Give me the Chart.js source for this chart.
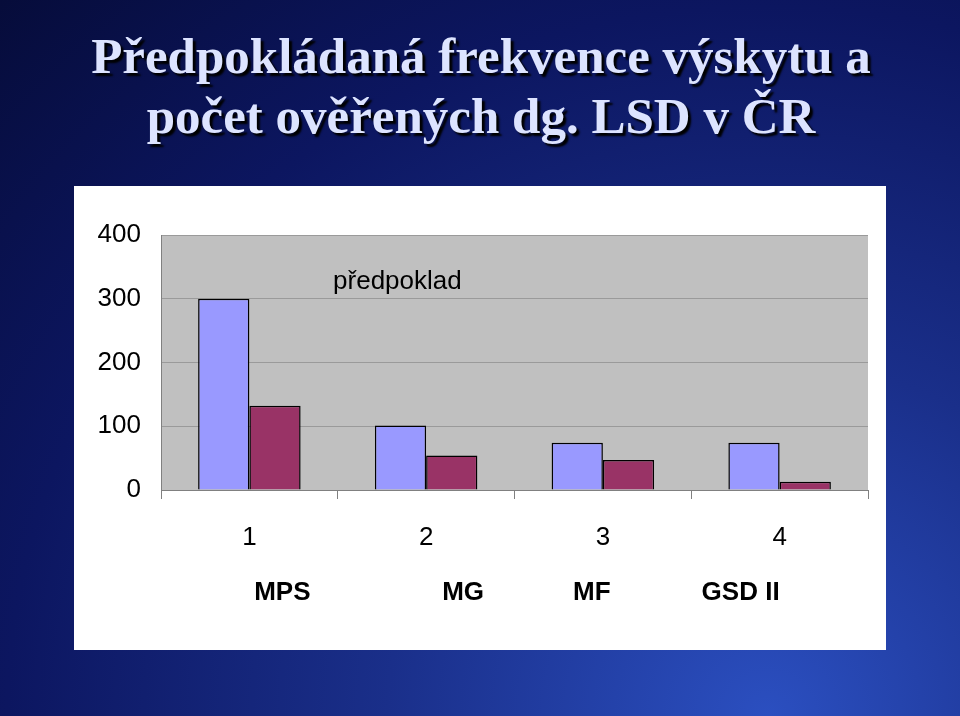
<!DOCTYPE html>
<html><head><meta charset="utf-8">
<script src="https://cdn.jsdelivr.net/npm/chart.js@4"></script>
<style>
html,body{margin:0;padding:0;}
body{width:960px;height:716px;position:relative;overflow:hidden;
background:radial-gradient(ellipse at 80% 100%, #2b4fc0 0%, #1a2f8a 35%, #0c1660 70%, #060c3a 100%);}
#title{position:absolute;left:0;top:26px;width:962px;text-align:center;font-family:"Liberation Serif",serif;font-weight:bold;font-size:51px;line-height:60px;color:#dde4ff;text-shadow:3px 3px 2px #000;}
#panel{position:absolute;left:74px;top:186px;width:812px;height:464px;background:#fff;}
</style></head><body>
<div id="title">Předpokládaná frekvence výskytu a<br>počet ověřených dg. LSD v ČR</div>
<div id="panel"><canvas id="c" width="812" height="464"></canvas></div>
<script>
const categories=["1","2","3","4"];
const diseases=["MPS","MG","MF","GSD II"];
const predpoklad=[300,101,74,74];
const overeno=[132,54,47,13];
const yTicks=[0,100,200,300,400];

const textPlugin={id:'txt',afterDraw(ch){
 const c=ch.ctx,x=ch.scales.x;
 c.save();c.fillStyle='#000';c.textAlign='center';c.textBaseline='middle';
 c.font='26px "Liberation Sans Narrow","Liberation Sans",sans-serif';
 categories.forEach((l,i)=>c.fillText(l,x.getPixelForValue(i),352));
 c.font='bold 26px "Liberation Sans Narrow","Liberation Sans",sans-serif';
 const off=[33,37,-11,-39];
 diseases.forEach((l,i)=>c.fillText(l,x.getPixelForValue(i)+off[i],407));
 c.font='26px "Liberation Sans Narrow","Liberation Sans",sans-serif';
 c.fillText('předpoklad',x.getPixelForValue(0)+148,96);
 c.restore();}};
const bgPlugin={id:'bg',beforeDraw(ch){const a=ch.chartArea,c=ch.ctx;c.save();c.fillStyle='#c0c0c0';c.fillRect(a.left,a.top,a.right-a.left,a.bottom-a.top);c.restore();}};

new Chart(document.getElementById('c'),{type:'bar',
 data:{labels:categories,datasets:[
  {data:predpoklad,backgroundColor:'#9999ff',borderColor:'#000',borderWidth:1.5,categoryPercentage:0.58,barPercentage:1},
  {data:overeno,backgroundColor:'#993366',borderColor:'#000',borderWidth:1.5,categoryPercentage:0.58,barPercentage:1}]},
 options:{responsive:false,animation:false,events:[],
  layout:{padding:{top:49,right:18,bottom:0,left:0}},
  plugins:{legend:{display:false},tooltip:{enabled:false}},
  scales:{
   x:{grid:{offset:true,drawOnChartArea:false,tickLength:9,color:'#808080'},border:{color:'#808080'},
      ticks:{display:false},afterFit(s){s.height=161+8-9;}},
   y:{min:0,max:400,afterBuildTicks(s){s.ticks=yTicks.map(v=>({value:v}));},
      grid:{color:'#9a9a9a',drawTicks:false},border:{color:'#808080'},
      ticks:{padding:20,color:'#000',font:{family:'"Liberation Sans Narrow","Liberation Sans",sans-serif',size:26}},
      afterFit(s){s.width=87;}}}},
 plugins:[bgPlugin,textPlugin]});
</script></body></html>
